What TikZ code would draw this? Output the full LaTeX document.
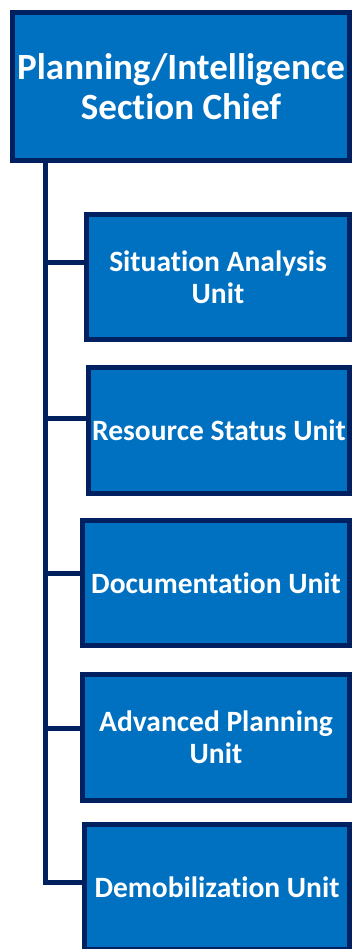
\documentclass[tikz,border=0pt]{standalone}
\usepackage{fontspec}
\setmainfont{Carlito}[RawFeature={-liga;-dlig}]
\usetikzlibrary{shadows}
\definecolor{boxblue}{HTML}{0070C0}
\definecolor{navy}{HTML}{002060}
\begin{document}
\begin{tikzpicture}[x=1pt,y=-1pt,
  unitbox/.style={draw=navy, line width=5pt, fill=boxblue, text=white,
    font=\bfseries\fontsize{29.5}{32}\selectfont, align=center, inner sep=0pt,
    drop shadow={shadow xshift=1pt, shadow yshift=-1.5pt, fill=black!25, opacity=0.6}},
  chiefbox/.style={unitbox, font=\bfseries\fontsize{37}{40}\selectfont},
  conn/.style={draw=navy, line width=5pt}]
\useasboundingbox (0,0) rectangle (352,949);
\clip (0,0) rectangle (352,949);
\node[chiefbox, minimum width=337pt, minimum height=148pt] (chief) at (181,86.5)
  {Planning/Intelligence\\Section Chief};
\node[unitbox, minimum width=263pt, minimum height=125pt] (u1) at (218,277)
  {Situation Analysis\\Unit};
\node[unitbox, minimum width=261pt, minimum height=126pt] (u2) at (219,430.5)
  {Resource Status Unit};
\node[unitbox, minimum width=267pt, minimum height=125pt] (u3) at (216,583)
  {Documentation Unit};
\node[unitbox, minimum width=267pt, minimum height=126pt] (u4) at (216,737.5)
  {Advanced Planning\\Unit};
\node[unitbox, minimum width=265pt, minimum height=125pt] (u5) at (217,887)
  {Demobilization Unit};
\coordinate (spine) at (45.5,0);
\path ([yshift=14pt]u1.west) coordinate (j1)
      ([yshift=12.5pt]u2.west) coordinate (j2)
      ([yshift=10pt]u3.west) coordinate (j3)
      ([yshift=9.5pt]u4.west) coordinate (j4)
      ([yshift=5pt]u5.west) coordinate (j5);
\draw[conn] (spine |- chief.south) -- (spine |- j5) -- (j5);
\draw[conn] (spine |- j1) -- (j1);
\draw[conn] (spine |- j2) -- (j2);
\draw[conn] (spine |- j3) -- (j3);
\draw[conn] (spine |- j4) -- (j4);
\end{tikzpicture}
\end{document}
